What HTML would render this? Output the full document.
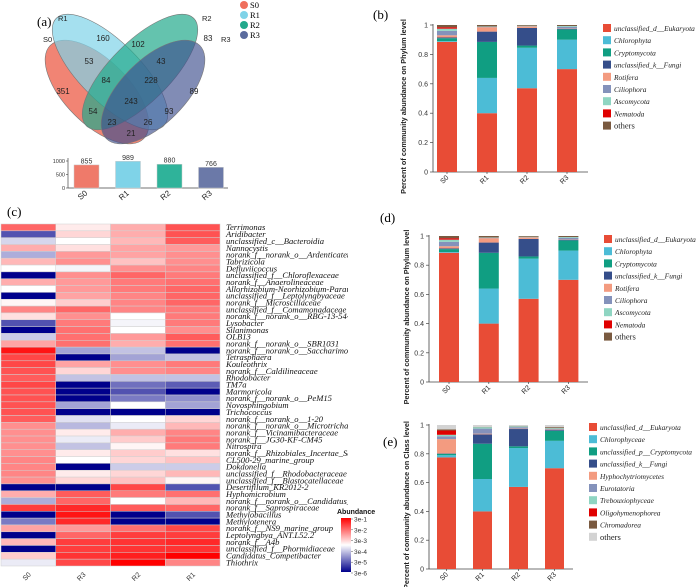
<!DOCTYPE html>
<html><head><meta charset="utf-8"><style>
body{margin:0;background:#fff;}
svg{display:block;}
.ser{font-family:"Liberation Serif",serif;}
.san{font-family:"Liberation Sans",sans-serif;}
</style></head><body>
<svg id="root" width="700" height="587" viewBox="0 0 700 587" xmlns="http://www.w3.org/2000/svg">
<defs>
<clipPath id="lblclip"><rect x="220" y="215" width="128" height="360"/></clipPath>
<linearGradient id="cbar" x1="0" y1="0" x2="0" y2="1">
<stop offset="0" stop-color="#ff0000"/><stop offset="0.5" stop-color="#ffffff"/><stop offset="1" stop-color="#00008b"/>
</linearGradient>
</defs>
<g id="venn">
<text x="37" y="26" class="ser" font-size="13">(a)</text>
<ellipse cx="97" cy="92" rx="66" ry="32" transform="rotate(45 97 92)" fill="#ef6f5c" fill-opacity="0.85" stroke="#777" stroke-width="0.6"/>
<ellipse cx="110" cy="72" rx="76" ry="30" transform="rotate(45 110 72)" fill="#7fd3e8" fill-opacity="0.7" stroke="#777" stroke-width="0.6"/>
<ellipse cx="140" cy="72" rx="76" ry="30" transform="rotate(-45 140 72)" fill="#22a98c" fill-opacity="0.7" stroke="#777" stroke-width="0.6"/>
<ellipse cx="153" cy="92" rx="66" ry="32" transform="rotate(-45 153 92)" fill="#3d4f8e" fill-opacity="0.65" stroke="#777" stroke-width="0.6"/>
<g class="san" font-size="8" fill="#222" text-anchor="middle" id="vennnums"></g>
<g class="san" font-size="7.5" fill="#222">
<text x="43" y="42">S0</text>
<text x="58" y="21">R1</text>
<text x="202" y="21">R2</text>
<text x="221" y="42">R3</text>
</g>
<g class="ser" font-size="8.5">
<circle cx="244" cy="5" r="4" fill="#ef6f5c"/><text x="250" y="8">S0</text>
<circle cx="244" cy="15" r="4" fill="#7fd3e8"/><text x="250" y="18">R1</text>
<circle cx="244" cy="25" r="4" fill="#22a98c"/><text x="250" y="28">R2</text>
<circle cx="244" cy="35" r="4" fill="#5b6b9e"/><text x="250" y="38">R3</text>
</g>
</g>
<g id="sizebar"></g>
<g id="heat">
<text x="7" y="216" class="ser" font-size="13">(c)</text>
</g>
<g id="panelb"></g>
<g id="paneld"></g>
<g id="panele"></g>
</svg>
<script>
const NS="http://www.w3.org/2000/svg";
function mk(p,tag,attrs,txt){const e=document.createElementNS(NS,tag);for(const k in attrs)e.setAttribute(k,attrs[k]);if(txt!==undefined)e.textContent=txt;p.appendChild(e);return e;}

// ---- Venn numbers ----
const vennValues=[160,83,53,102,43,84,228,351,89,243,54,93,23,26,21];
const vennPos=[[103,41],[208,41],[89,64],[138,47],[161,64],[106,83],[151,83],[63,94],[194,94],[131,104],[93,114],[169,114],[112,125],[148,125],[131,136]];
const vn=document.getElementById('vennnums');
vennValues.forEach((v,i)=>{const t=mk(vn,'text',{x:vennPos[i][0],y:vennPos[i][1]},String(v));

});

// ---- OTU count bar ----
const sizeCats=['S0','R1','R2','R3'];
const sizeVals=[855,989,880,766];
const sizeTicks=[0,500,1000];
const sizeColors=['#ef7a6a','#7fd3e8','#2fb39a','#6b79a8'];
(function(){
 const g=document.getElementById('sizebar');
 const y0=188,y1=161,x0=68;
 const ys=v=>y0-(v/1000)*(y0-y1);
 const xs=i=>74+i*41.5;
 mk(g,'line',{x1:x0,y1:158,x2:x0,y2:y0,stroke:'#444','stroke-width':0.7});
 mk(g,'line',{x1:x0,y1:y0,x2:228,y2:y0,stroke:'#444','stroke-width':0.7});
 sizeTicks.forEach(t=>{mk(g,'line',{x1:x0-2,y1:ys(t),x2:x0,y2:ys(t),stroke:'#444','stroke-width':0.6});
  const l=mk(g,'text',{x:x0-3,y:ys(t)+2,'font-size':5.5,'text-anchor':'end',class:'san',fill:'#333'},String(t));
  
  });
 sizeVals.forEach((v,i)=>{const r=mk(g,'rect',{x:xs(i),y:ys(v),width:25,height:y0-ys(v),fill:sizeColors[i],stroke:'#ccc','stroke-width':0.5});
  
  
  const t=mk(g,'text',{x:xs(i)+12.5,y:ys(v)-1.5,'font-size':7,'text-anchor':'middle',class:'san',fill:'#333'},String(v));
  
  
  const c=mk(g,'text',{x:xs(i)+14,y:y0+6,'font-size':8,'text-anchor':'end',class:'san',fill:'#222',transform:`rotate(-40 ${xs(i)+14} ${y0+6})`},sizeCats[i]);
  
  });
})();

// ---- Heatmap ----
const heatCols=['S0','R3','R2','R1'];
const heatRows=['Terrimonas','Aridibacter','unclassified_c__Bacteroidia','Nannocystis','norank_f__norank_o__Ardenticatenales','Tabrizicola','Defluviicoccus','unclassified_f__Chloroflexaceae','norank_f__Anaerolineaceae','Allorhizobium-Neorhizobium-Pararhizobium-Rhizo','unclassified_f__Leptolyngbyaceae','norank_f__Microscillaceae','unclassified_f__Comamonadaceae','norank_f__norank_o__RBG-13-54-9','Lysobacter','Silanimonas','OLB13','norank_f__norank_o__SBR1031','norank_f__norank_o__Saccharimonadales','Tetrasphaera','Kouleothrix','norank_f__Caldilineaceae','Rhodobacter','TM7a','Marmoricola','norank_f__norank_o__PeM15','Novosphingobium','Trichococcus','norank_f__norank_o__1-20','norank_f__norank_o__Microtrichales','norank_f__Vicinamibacteraceae','norank_f__JG30-KF-CM45','Nitrospira','norank_f__Rhizobiales_Incertae_Sedis','CL500-29_marine_group','Dokdonella','unclassified_f__Rhodobacteraceae','unclassified_f__Blastocatellaceae','Desertifilum_KR2012-2','Hyphomicrobium','norank_f__norank_o__Candidatus_Moranbacteria','norank_f__Saprospiraceae','Methylobacillus','Methylotenera','norank_f__NS9_marine_group','Leptolyngbya_ANT.L52.2','norank_f__A4b','unclassified_f__Phormidiaceae','Candidatus_Competibacter','Thiothrix'];
// abundance level: 1 = 3e-6 ... 6 = 3e-1 (log scale)
const heatS0=[5,1.8,3.1,4.3,2.7,4.2,3.5,1,4.3,3.5,1,3.6,4.7,3.8,1.8,1,3,4.4,5.8,5.3,5.3,5.2,5.1,5.3,5.2,5.2,5.2,5.2,5.1,4.6,4.6,4.6,4.6,4.6,4.7,4.7,4.7,4.6,1,4.3,2.7,5.4,1,2.2,4.4,1,4.2,1,4,3.3];
const heatR3=[3.7,3.9,3.5,3.8,4.5,4.6,3.4,4.6,4.5,4.5,4.4,4,5,4.6,4.8,4.9,4.9,4.9,2.6,1,4.4,3.9,2.9,1,1,1,2.6,1,3.2,2.8,3.7,3.3,2.9,3.7,3.5,1,3.7,3.9,1,5.1,5,5.6,5.8,5.6,4.5,5,5.4,5.4,5.5,5.3];
const heatR2=[4.3,4.3,4.2,4.4,4.4,4.1,4.6,5,4.8,4.8,4.7,4.7,4.7,3.5,3.4,3.5,4.5,4.3,2.9,2.6,4.6,4.6,2.9,2.1,1.8,2.2,3.5,1,3.5,3.3,4.3,4,3.6,4,3.9,3,3.9,4.1,5.3,4.8,3.5,5.1,1,1,4.9,5.4,5.5,5.5,5.7,6];
const heatR1=[5.2,5.2,5.1,4.5,4.6,4.6,4.7,4.8,4.9,5,5,5,4.8,4.8,4.8,4.6,5.1,4.9,1,2.9,4.8,4.7,2.9,1.9,1,2.4,2.6,1,3.9,4.2,4.7,4.8,4.8,3.8,4.1,3,4.2,3.6,1.8,4.9,4.2,5,1.8,1,5.3,5.4,5.6,5.5,6,4.7];
const cbarLabels=['3e-1','3e-2','3e-3','3e-4','3e-5','3e-6'];
(function(){
 const g=document.getElementById('heat');
 const x0=1,cw=54.75,y0=224,rh=(566-224)/heatRows.length;
 const cols=[heatS0,heatR3,heatR2,heatR1];
 function color(v){const t=Math.max(-1,Math.min(1,(v-3.5)/2.5));
  let r,gg,b;
  if(t>=0){r=255;gg=Math.round(255*(1-t));b=Math.round(255*(1-t));}
  else{const s=-t;r=Math.round(255*(1-s));gg=Math.round(255*(1-s));b=Math.round(255-(255-139)*s);}
  return `rgb(${r},${gg},${b})`;}
 cols.forEach((arr,ci)=>{arr.forEach((v,ri)=>{
  const r=mk(g,'rect',{x:x0+ci*cw,y:y0+ri*rh,width:cw,height:rh,fill:color(v),stroke:'#d0d0d0','stroke-width':0.5});
  
  });
  const cx=x0+ci*cw+cw/2;
  const t=mk(g,'text',{x:cx+3,y:575,'font-size':7,'text-anchor':'end',class:'san',fill:'#333',transform:`rotate(-45 ${cx+3} 575)`},heatCols[ci]);
  
  });
 const lg=mk(g,'g',{'clip-path':'url(#lblclip)'});
 heatRows.forEach((n,ri)=>{const t=mk(lg,'text',{x:226,y:y0+ri*rh+rh-0.6,'font-size':8.6,class:'ser','font-style':'italic',fill:'#111'},n);
  
  });
 const cb=mk(g,'rect',{x:341,y:518,width:10,height:54,fill:'url(#cbar)'});
 
 
 const at=mk(g,'text',{x:337,y:514,'font-size':7,'font-weight':'bold',class:'san',fill:'#111'},'Abundance');
 
 
 cbarLabels.forEach((l,i)=>{const y=519+i*10.8;
  mk(g,'line',{x1:351,y1:y,x2:353,y2:y,stroke:'#555','stroke-width':0.5});
  const t=mk(g,'text',{x:354,y:y+2.5,'font-size':6.5,class:'san',fill:'#333'},l);
  
  });
})();

// ---- Stacked bar charts ----
const stackCats=['S0','R1','R2','R3'];
const yTicks=[0,0.2,0.4,0.6,0.8,1];
const phylumNames=['unclassified_d__Eukaryota','Chlorophyta','Cryptomycota','unclassified_k__Fungi','Rotifera','Ciliophora','Ascomycota','Nematoda','others'];
const phylumColors=['#e84c36','#4cbcd6','#109e82','#354e8a','#f39b80','#8492bb','#8fd5c2','#e00000','#7a5a40'];
const phylumS0=[0.885,0.005,0.02,0.005,0.015,0.03,0.015,0.01,0.015];
const phylumR1=[0.40,0.24,0.245,0.07,0.03,0.003,0.002,0,0.01];
const phylumR2=[0.57,0.275,0.015,0.12,0.01,0.002,0.003,0,0.005];
const phylumR3=[0.70,0.20,0.07,0.005,0.003,0.01,0.005,0,0.007];
const classNames=['unclassified_d__Eukaryota','Chlorophyceae','unclassified_p__Cryptomycota','unclassified_k__Fungi','Hyphochytriomycetes','Eurotatoria','Trebouxiophyceae','Oligohymenophorea','Chromadorea','others'];
const classColors=['#e84c36','#4cbcd6','#109e82','#354e8a','#f39b80','#8492bb','#8fd5c2','#e00000','#7a5a40','#d3d3d3'];
const classS0=[0.775,0.015,0.01,0.002,0.10,0.02,0.01,0.03,0.008,0.03];
const classR1=[0.40,0.225,0.245,0.065,0.005,0.035,0.01,0,0.002,0.013];
const classR2=[0.57,0.27,0.012,0.12,0.003,0.01,0.005,0,0.002,0.008];
const classR3=[0.70,0.19,0.07,0.005,0.003,0.005,0.005,0,0.007,0.015];

function stack(gid,cfg){
 const g=document.getElementById(gid);
 const ys=v=>cfg.y0-v*(cfg.y0-cfg.y1);
 const xs=i=>cfg.bx+i*cfg.step;
 mk(g,'text',{x:cfg.lx,y:cfg.ly,'font-size':13,class:'ser'},cfg.label);
 mk(g,'line',{x1:cfg.ax,y1:cfg.y1-1,x2:cfg.ax,y2:cfg.y0,stroke:'#444','stroke-width':0.8});
 mk(g,'line',{x1:cfg.ax,y1:cfg.y0,x2:cfg.axEnd,y2:cfg.y0,stroke:'#444','stroke-width':0.8});
 yTicks.forEach(t=>{mk(g,'line',{x1:cfg.ax-3,y1:ys(t),x2:cfg.ax,y2:ys(t),stroke:'#444','stroke-width':0.7});
  const l=mk(g,'text',{x:cfg.ax-5,y:ys(t)+2.5,'font-size':7,'text-anchor':'end',class:'san',fill:'#333'},String(t));
  
  });
 const tx=cfg.titleX,ty=(cfg.y0+cfg.y1)/2+8;
 const tt=mk(g,'text',{x:tx,y:ty,'font-size':7.3,'font-weight':'bold',class:'san','text-anchor':'middle',fill:'#222',transform:`rotate(-90 ${tx} ${ty})`},cfg.title);
 
 
 cfg.series.forEach((arr,i)=>{let acc=0;
  arr.forEach((v,k)=>{const r=mk(g,'rect',{x:xs(i),y:ys(acc+v),width:cfg.bw,height:Math.max(0,ys(acc)-ys(acc+v)),fill:cfg.colors[k]});
   
   
   acc+=v;});
  mk(g,'line',{x1:xs(i)+cfg.bw/2,y1:cfg.y0,x2:xs(i)+cfg.bw/2,y2:cfg.y0+2,stroke:'#444','stroke-width':0.7});
  const cx=xs(i)+cfg.bw/2+2,cy=cfg.y0+6;
  const c=mk(g,'text',{x:cx,y:cy,'font-size':7,'text-anchor':'end',class:'san',fill:'#222',transform:`rotate(-45 ${cx} ${cy})`},stackCats[i]);
  
  });
 cfg.names.forEach((n,k)=>{const y=cfg.legY+k*12.2;
  const s=mk(g,'rect',{x:cfg.legX,y:y-4,width:8,height:8,fill:cfg.colors[k]});
  
  
  const t=mk(g,'text',{x:cfg.legX+11,y:y+3,'font-size':n==='others'?8.5:7.4,class:'ser','font-style':n==='others'?'normal':'italic',fill:'#222'},n);
  
  });
}
stack('panelb',{label:'(b)',lx:373,ly:19,y0:172,y1:25,ax:433,axEnd:588,bx:437,step:40,bw:20,titleX:406,
 title:'Percent of community abundance on Phylum level',series:[phylumS0,phylumR1,phylumR2,phylumR3],colors:phylumColors,names:phylumNames,legX:603,legY:28});
stack('paneld',{label:'(d)',lx:380,ly:222,y0:382,y1:236,ax:429,axEnd:588,bx:439,step:39.8,bw:20,titleX:409,
 title:'Percent of community abundance on Phylum level',series:[phylumS0,phylumR1,phylumR2,phylumR3],colors:phylumColors,names:phylumNames,legX:604,legY:239});
stack('panele',{label:'(e)',lx:383,ly:446,y0:569,y1:425,ax:429,axEnd:573,bx:437,step:36,bw:19,titleX:409,
 title:'Percent of community abundance on Class level',series:[classS0,classR1,classR2,classR3],colors:classColors,names:classNames,legX:589,legY:427});
</script>
</body></html>
